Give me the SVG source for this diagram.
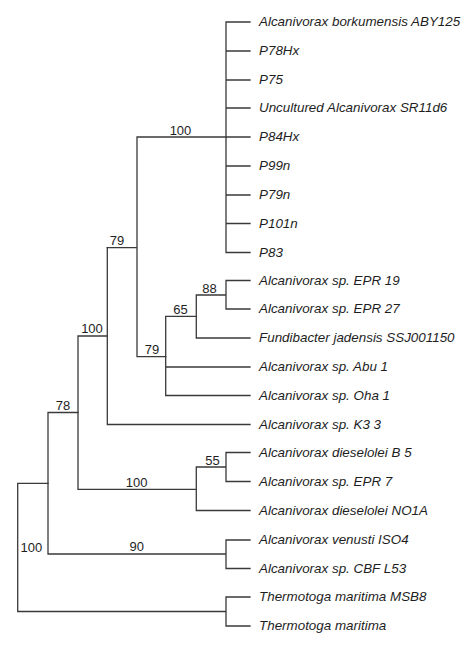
<svg xmlns="http://www.w3.org/2000/svg" width="474" height="654" viewBox="0 0 474 654">
<style>
.br{fill:none;stroke:#3a3a3a;stroke-width:1.3;stroke-linecap:square}
.leaf{font-family:"Liberation Sans",Arial,sans-serif;font-style:italic;font-size:13.4px;fill:#1e1e1e}
.bs{font-family:"Liberation Sans",Arial,sans-serif;font-size:13px;fill:#1e1e1e;text-anchor:middle}
</style>
<rect width="474" height="654" fill="#fff"/>
<g id="connectors" class="br">
<path d="M226 22V252.5M226 22H250M226 51H250M226 80H250M226 108H250M226 137H250M226 166H250M226 195H250M226 223.5H250M226 252.5H250"/>
<path d="M137 137H226M137 137V356.7M137 356.7H165.7M107.3 247.7H137"/>
<path d="M165.7 316.3V395.5M165.7 316.3H196.3M196.3 295V338M196.3 338H250M196.3 295H226M226 280.5V309M226 280.5H250M226 309H250M165.7 367H250M165.7 395.5H250"/>
<path d="M107.3 247.7V424.5M107.3 424.5H250M78 336H107.3M78 336V489.3M78 489.3H196.3M196.3 467V510.5M196.3 510.5H250M196.3 467H226M226 452.5V481.5M226 452.5H250M226 481.5H250"/>
<path d="M48 412.5H78M48 412.5V554M48 554H226M226 540V568.5M226 540H250M226 568.5H250"/>
<path d="M17.7 483.3H48M17.7 483.3V611.5M17.7 611.5H226M226 597V626M226 597H250M226 626H250"/>
</g>
<g id="leaf1"><text class="leaf" x="259" y="26">Alcanivorax borkumensis ABY125</text></g>
<g id="leaf2"><text class="leaf" x="259" y="55">P78Hx</text></g>
<g id="leaf3"><text class="leaf" x="259" y="84">P75</text></g>
<g id="leaf4"><text class="leaf" x="259" y="112">Uncultured Alcanivorax SR11d6</text></g>
<g id="leaf5"><text class="leaf" x="259" y="141">P84Hx</text></g>
<g id="leaf6"><text class="leaf" x="259" y="170">P99n</text></g>
<g id="leaf7"><text class="leaf" x="259" y="199">P79n</text></g>
<g id="leaf8"><text class="leaf" x="259" y="227.5">P101n</text></g>
<g id="leaf9"><text class="leaf" x="259" y="256.5">P83</text></g>
<g id="leaf10"><text class="leaf" x="259" y="284.5">Alcanivorax sp. EPR 19</text></g>
<g id="leaf11"><text class="leaf" x="259" y="313">Alcanivorax sp. EPR 27</text></g>
<g id="leaf12"><text class="leaf" x="259" y="342">Fundibacter jadensis SSJ001150</text></g>
<g id="leaf13"><text class="leaf" x="259" y="371">Alcanivorax sp. Abu 1</text></g>
<g id="leaf14"><text class="leaf" x="259" y="399.5">Alcanivorax sp. Oha 1</text></g>
<g id="leaf15"><text class="leaf" x="259" y="428.5">Alcanivorax sp. K3 3</text></g>
<g id="leaf16"><text class="leaf" x="259" y="456.5">Alcanivorax dieselolei B 5</text></g>
<g id="leaf17"><text class="leaf" x="259" y="485.5">Alcanivorax sp. EPR 7</text></g>
<g id="leaf18"><text class="leaf" x="259" y="514.5">Alcanivorax dieselolei NO1A</text></g>
<g id="leaf19"><text class="leaf" x="259" y="544">Alcanivorax venusti ISO4</text></g>
<g id="leaf20"><text class="leaf" x="259" y="572.5">Alcanivorax sp. CBF L53</text></g>
<g id="leaf21"><text class="leaf" x="259" y="601">Thermotoga maritima MSB8</text></g>
<g id="leaf22"><text class="leaf" x="259" y="630">Thermotoga maritima</text></g>
<g id="bs-top100"><text class="bs" x="180.5" y="134.5">100</text></g>
<g id="bs-up79"><text class="bs" x="117" y="245">79</text></g>
<g id="bs-low79"><text class="bs" x="152" y="354">79</text></g>
<g id="bs-65"><text class="bs" x="180.5" y="313.8">65</text></g>
<g id="bs-88"><text class="bs" x="209.5" y="292.5">88</text></g>
<g id="bs-mid100"><text class="bs" x="92" y="333.3">100</text></g>
<g id="bs-78"><text class="bs" x="63" y="409.8">78</text></g>
<g id="bs-low100"><text class="bs" x="136.7" y="486.8">100</text></g>
<g id="bs-55"><text class="bs" x="212.5" y="464.7">55</text></g>
<g id="bs-90"><text class="bs" x="136.7" y="551.3">90</text></g>
<g id="bs-root100"><text class="bs" x="31.3" y="551.5">100</text></g>
</svg>
